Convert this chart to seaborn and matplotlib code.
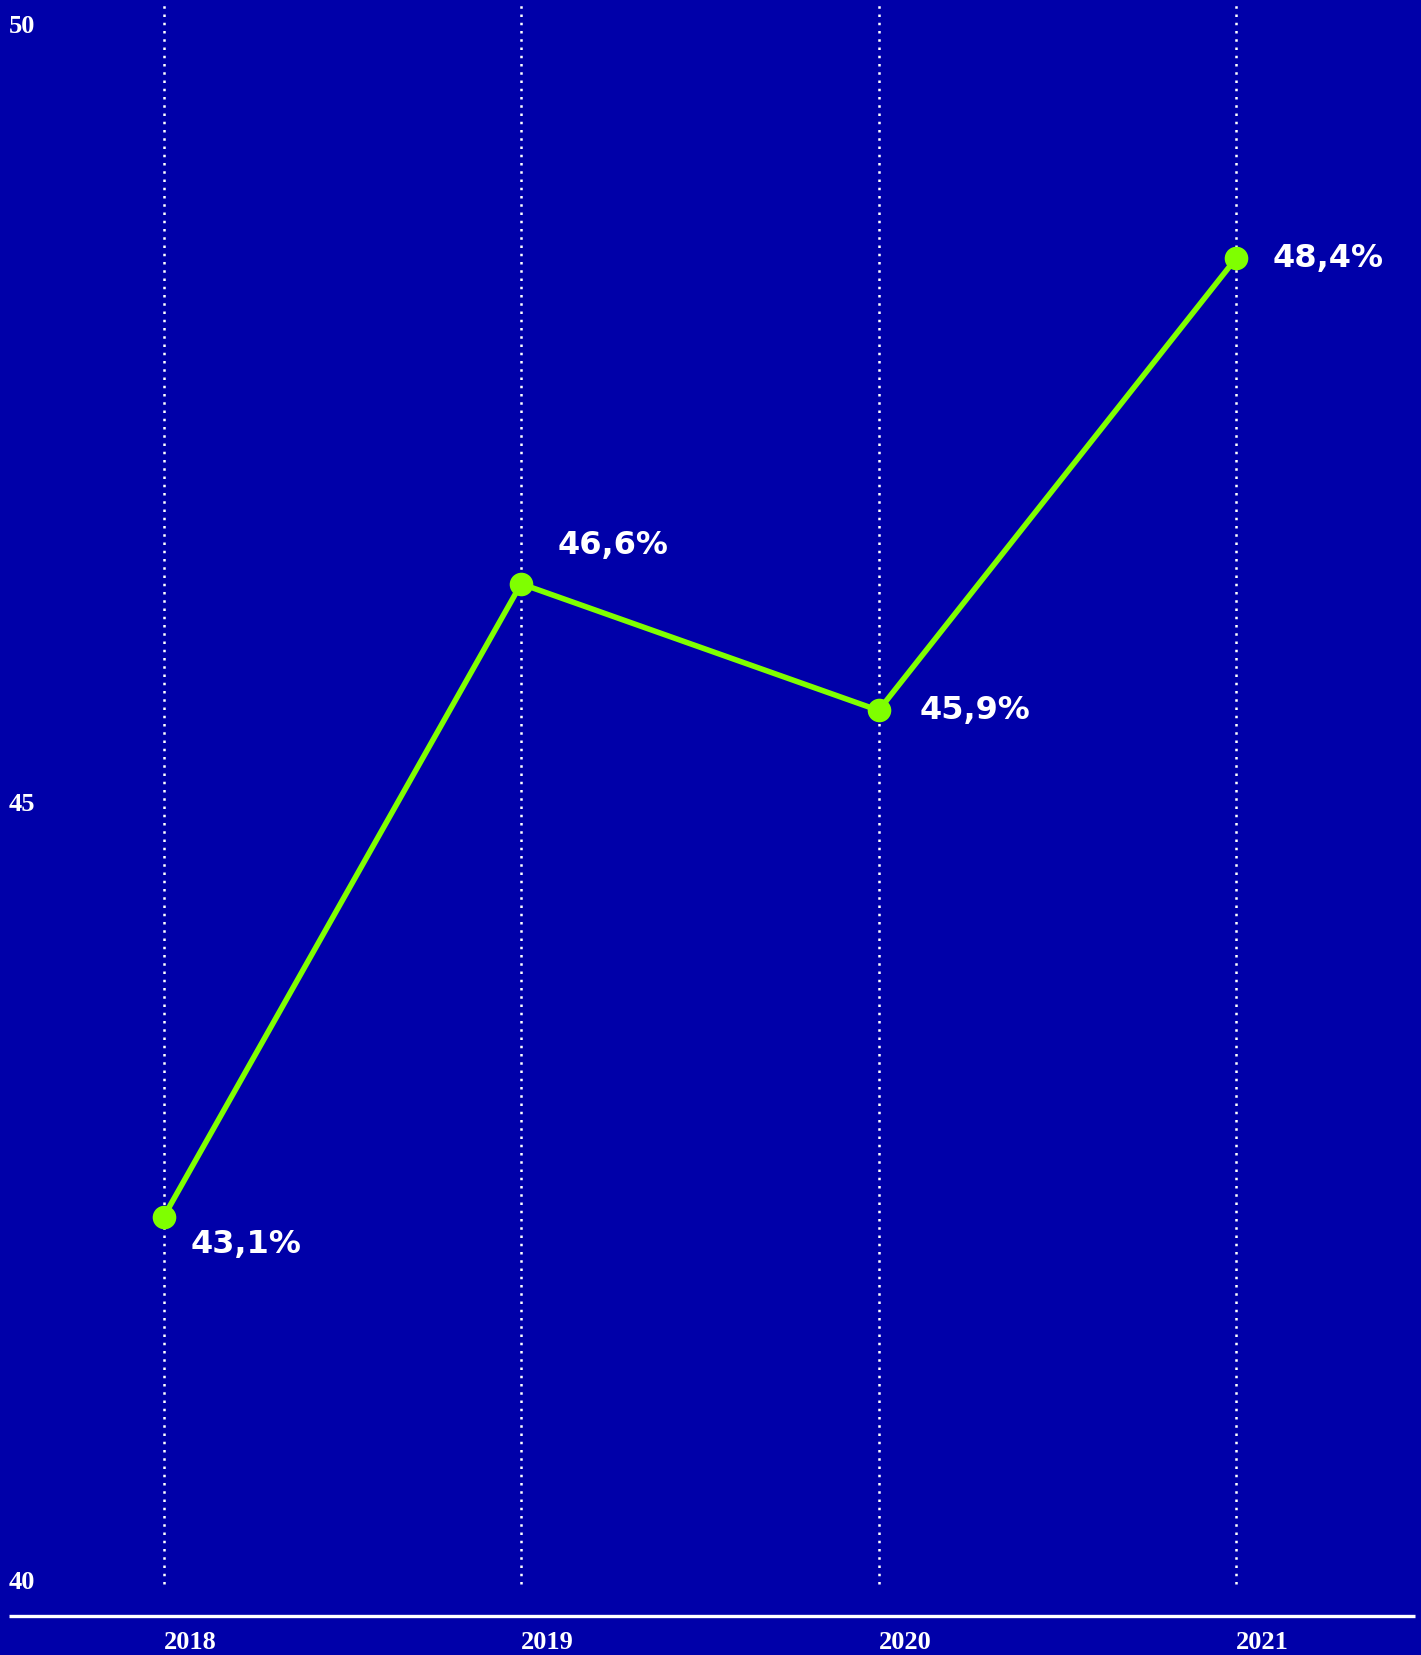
import numpy as np
import pandas as pd
import matplotlib
matplotlib.use("Agg")
import matplotlib.pyplot as plt
import seaborn as sns

# datos
years = ["2018", "2019", "2020", "2021"]
values = [43.1, 46.6, 45.9, 48.4]
value_labels = ["43,1%", "46,6%", "45,9%", "48,4%"]
scale_ticks = [40, 45, 50]
scale_labels = ["40", "45", "50"]

BG = "#0000a9"
GREEN = "#7fff00"
WHITE = "#ffffff"

sns.set_theme(style="white")
plt.rcParams["font.family"] = ["DejaVu Sans"]

df = pd.DataFrame({"pos": np.arange(len(years)), "value": values})

fig = plt.figure(figsize=(14.21, 16.55), dpi=100)
fig.patch.set_facecolor(BG)
ax = fig.add_axes([0, 0, 1, 1])
ax.set_facecolor(BG)

# lineas punteadas verticales
for i in range(len(years)):
    ax.axvline(i, ymin=0.043, ymax=0.9985, color=WHITE, lw=1.8,
               linestyle=(0, (1, 2.3)), zorder=1)

sns.lineplot(data=df, x="pos", y="value", ax=ax, color=GREEN, lw=4,
             marker="o", markersize=17, markeredgewidth=0, zorder=3)

ax.set_xlim(-0.4576, 3.517)
ax.set_ylim(40.679, 49.827)
ax.set_xlabel("")
ax.set_ylabel("")
ax.set_yticks([])
ax.set_xticks(range(len(years)), labels=years)
ax.tick_params(axis="x", length=0, pad=-17, labelsize=19, colors=WHITE)
for lbl in ax.get_xticklabels():
    lbl.set_ha("left")
    lbl.set_family("Liberation Serif")
    lbl.set_weight("bold")
for s in ax.spines.values():
    s.set_visible(False)

# etiquetas de valor
offsets = [(27, -27), (36, 38), (41, 0), (36, 0)]
for i, (v, txt) in enumerate(zip(values, value_labels)):
    ax.annotate(txt, (i, v), xytext=offsets[i], textcoords="offset pixels",
                ha="left", va="center", color=WHITE, fontsize=23,
                fontweight="heavy", zorder=4)

# linea base
ax.plot([0.0063, 0.9958], [0.0236, 0.0236], transform=ax.transAxes,
        color=WHITE, lw=2.4, solid_capstyle="butt", clip_on=False)

# escala izquierda
ax2 = ax.twinx()
ax2.set_ylim(39.518, 50.154)
ax2.yaxis.set_ticks_position("left")
ax2.set_yticks(scale_ticks, labels=scale_labels)
ax2.tick_params(axis="y", length=0, pad=-6.5, labelsize=19, colors=WHITE)
for lbl in ax2.get_yticklabels():
    lbl.set_ha("left")
    lbl.set_family("Liberation Serif")
    lbl.set_weight("bold")
for s in ax2.spines.values():
    s.set_visible(False)
ax2.grid(False)
ax.grid(False)

fig.savefig("out.png", dpi=100, facecolor=BG)
